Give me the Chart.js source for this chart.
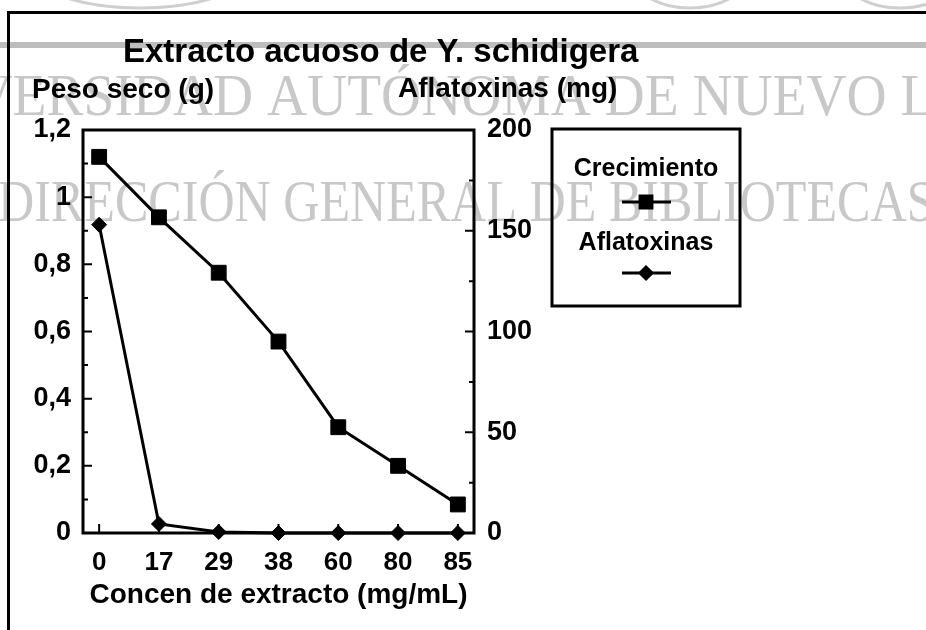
<!DOCTYPE html>
<html>
<head>
<meta charset="utf-8">
<script src="https://cdn.jsdelivr.net/npm/chart.js@4/dist/chart.umd.min.js"></script>
<style>
  html, body { margin: 0; padding: 0; background: #fff; }
  #wrap { position: relative; width: 926px; height: 630px; }
</style>
</head>
<body>
<div id="wrap"><canvas id="c"></canvas></div>
<script>
// ---- data ----
const concentraciones = ['0', '17', '29', '38', '60', '80', '85'];
const crecimiento = [1.12, 0.94, 0.775, 0.57, 0.315, 0.20, 0.085];
const aflatoxinas = [153, 4.5, 0.5, 0, 0, 0, 0];
const pesoTicks = [0, 0.2, 0.4, 0.6, 0.8, 1, 1.2];
const aflaTicks = [0, 50, 100, 150, 200];
const titulo = 'Extracto acuoso de Y. schidigera';
const tituloPeso = 'Peso seco (g)';
const tituloAfla = 'Aflatoxinas (mg)';
const tituloX = 'Concen de extracto (mg/mL)';
const serieCrec = 'Crecimiento';
const serieAfla = 'Aflatoxinas';
const marcaAgua = ['UNIVERSIDAD AUTÓNOMA DE NUEVO LEÓN', 'DIRECCIÓN GENERAL DE BIBLIOTECAS'];

// ---- styles ----
const FONT = "'Liberation Sans', Arial, Helvetica, sans-serif";
const SERIF = "'Liberation Serif', 'Times New Roman', serif";

function mkDataset(label, values, axis, style, radius) {
  return {
    label: label,
    data: values.map((v, i) => ({ x: i, y: v })),
    yAxisID: axis,
    borderColor: '#000',
    backgroundColor: '#000',
    borderWidth: 3,
    pointStyle: style,
    pointRadius: radius,
    pointHoverRadius: radius,
    pointBorderWidth: 1,
    pointBackgroundColor: '#000',
    pointBorderColor: '#000',
    tension: 0,
    clip: false
  };
}

function condensed(c, text, x, y, sx) {
  c.save();
  c.translate(x, y);
  c.scale(sx, 1);
  c.fillText(text, 0, 0);
  c.restore();
}

const deco = {
  id: 'deco',
  beforeDraw(chart) {
    const c = chart.ctx;
    c.save();
    c.fillStyle = '#fff';
    c.fillRect(0, 0, chart.width, chart.height);
    // faint logo arcs of the watermark
    c.strokeStyle = '#cfcfcf';
    c.lineWidth = 3;
    c.beginPath(); c.ellipse(140, -40, 120, 48, 0, 0, Math.PI); c.stroke();
    c.beginPath(); c.ellipse(690, -30, 60, 38, 0, 0, Math.PI); c.stroke();
    c.beginPath(); c.ellipse(900, -30, 60, 38, 0, 0, Math.PI); c.stroke();
    // gray band
    c.fillStyle = '#bdbdbd';
    c.fillRect(0, 42, chart.width, 6);
    // watermark text
    c.fillStyle = '#c8c8c8';
    c.font = '60px ' + SERIF;
    c.textBaseline = 'alphabetic';
    c.textAlign = 'left';
    const sx1 = 0.925;
    const off1 = c.measureText('UNIVERSIDAD ').width * sx1;
    condensed(c, marcaAgua[0], 267 - off1, 115, sx1);
    condensed(c, marcaAgua[1], -2, 221, 0.835);
    // outer frame
    c.fillStyle = '#000';
    c.fillRect(7, 11, chart.width, 3);
    c.fillRect(7, 11, 3, chart.height);
    c.restore();
  },
  beforeDatasetsDraw(chart) {
    const c = chart.ctx;
    const a = chart.chartArea;
    const xs = chart.scales.x, ys = chart.scales.y, ys2 = chart.scales.y2;
    c.save();
    c.strokeStyle = '#000';
    c.lineWidth = 3;
    c.strokeRect(a.left, a.top, a.right - a.left, a.bottom - a.top);
    c.lineWidth = 2;
    c.beginPath();
    pesoTicks.forEach((v, i) => {
      const y = ys.getPixelForValue(v);
      c.moveTo(a.left, y); c.lineTo(a.left + 9, y);
      if (i < pesoTicks.length - 1) {
        const ym = ys.getPixelForValue((v + pesoTicks[i + 1]) / 2);
        c.moveTo(a.left, ym); c.lineTo(a.left + 5, ym);
      }
    });
    aflaTicks.forEach((v, i) => {
      const y = ys2.getPixelForValue(v);
      c.moveTo(a.right, y); c.lineTo(a.right - 9, y);
      if (i < aflaTicks.length - 1) {
        const ym = ys2.getPixelForValue((v + aflaTicks[i + 1]) / 2);
        c.moveTo(a.right, ym); c.lineTo(a.right - 5, ym);
      }
    });
    concentraciones.forEach((_, i) => {
      const x = xs.getPixelForValue(i);
      c.moveTo(x, a.bottom); c.lineTo(x, a.bottom - 9);
    });
    c.stroke();
    c.restore();
  },
  afterDraw(chart) {
    const c = chart.ctx;
    c.save();
    c.fillStyle = '#000';
    c.textBaseline = 'alphabetic';
    // title
    c.font = 'bold 33px ' + FONT;
    c.textAlign = 'left';
    c.fillText(titulo, 123, 62);
    // axis titles above the axes
    c.font = 'bold 28px ' + FONT;
    c.fillText(tituloPeso, 32, 98);
    c.fillText(tituloAfla, 398, 97);
    // legend
    const lx = 552, ly = 129, lw = 188, lh = 177;
    c.strokeStyle = '#000';
    c.lineWidth = 3;
    c.strokeRect(lx, ly, lw, lh);
    const cx = lx + lw / 2;
    const rows = [{ t: 176, s: 202 }, { t: 250, s: 273 }];
    chart.data.datasets.forEach((d, i) => {
      c.font = 'bold 25px ' + FONT;
      c.textAlign = 'center';
      c.fillStyle = '#000';
      c.fillText(d.label, cx, rows[i].t);
      c.beginPath();
      c.lineWidth = 3;
      c.moveTo(cx - 24, rows[i].s); c.lineTo(cx + 25, rows[i].s);
      c.stroke();
      Chart.helpers.drawPoint(c, {
        pointStyle: d.pointStyle, radius: d.pointRadius * 0.8, borderWidth: 1, rotation: 0
      }, cx, rows[i].s);
      c.fill();
    });
    c.restore();
  }
};

const yTickFont = { family: FONT, size: 27, weight: 'bold' };
const xTickFont = { family: FONT, size: 26, weight: 'bold' };

new Chart(document.getElementById('c'), {
  type: 'line',
  data: {
    datasets: [
      mkDataset(serieCrec, crecimiento, 'y', 'rect', 10.5),
      mkDataset(serieAfla, aflatoxinas, 'y2', 'rectRot', 7.5)
    ]
  },
  options: {
    responsive: true,
    maintainAspectRatio: false,
    animation: false,
    events: [],
    layout: { padding: { top: 130, left: 0, right: 0, bottom: 0 } },
    plugins: {
      legend: { display: false },
      title: { display: false },
      tooltip: { enabled: false }
    },
    scales: {
      x: {
        type: 'linear',
        position: 'bottom',
        min: -0.27,
        max: 6.27,
        afterBuildTicks: s => { s.ticks = concentraciones.map((_, i) => ({ value: i })); },
        afterFit: s => { s.height = 97; },
        grid: { display: false, drawTicks: false },
        border: { display: false },
        ticks: {
          color: '#000', font: xTickFont, padding: 14, autoSkip: false, maxRotation: 0,
          callback: v => concentraciones[v]
        },
        title: {
          display: true, text: tituloX, color: '#000',
          font: { family: FONT, size: 28, weight: 'bold' },
          padding: { top: 0, bottom: 18 }
        }
      },
      y: {
        type: 'linear',
        position: 'left',
        min: 0,
        max: 1.2,
        afterBuildTicks: s => { s.ticks = pesoTicks.map(v => ({ value: v })); },
        afterFit: s => { s.width = 83; },
        grid: { display: false, drawTicks: false },
        border: { display: false },
        ticks: { color: '#000', font: yTickFont, padding: 12, callback: v => String(v).replace('.', ',') }
      },
      y2: {
        type: 'linear',
        position: 'right',
        min: 0,
        max: 200,
        afterBuildTicks: s => { s.ticks = aflaTicks.map(v => ({ value: v })); },
        afterFit: s => { s.width = 926 - 474; },
        grid: { display: false, drawTicks: false },
        border: { display: false },
        ticks: { color: '#000', font: yTickFont, padding: 13, callback: v => String(v) }
      }
    }
  },
  plugins: [deco]
});
</script>
</body>
</html>
